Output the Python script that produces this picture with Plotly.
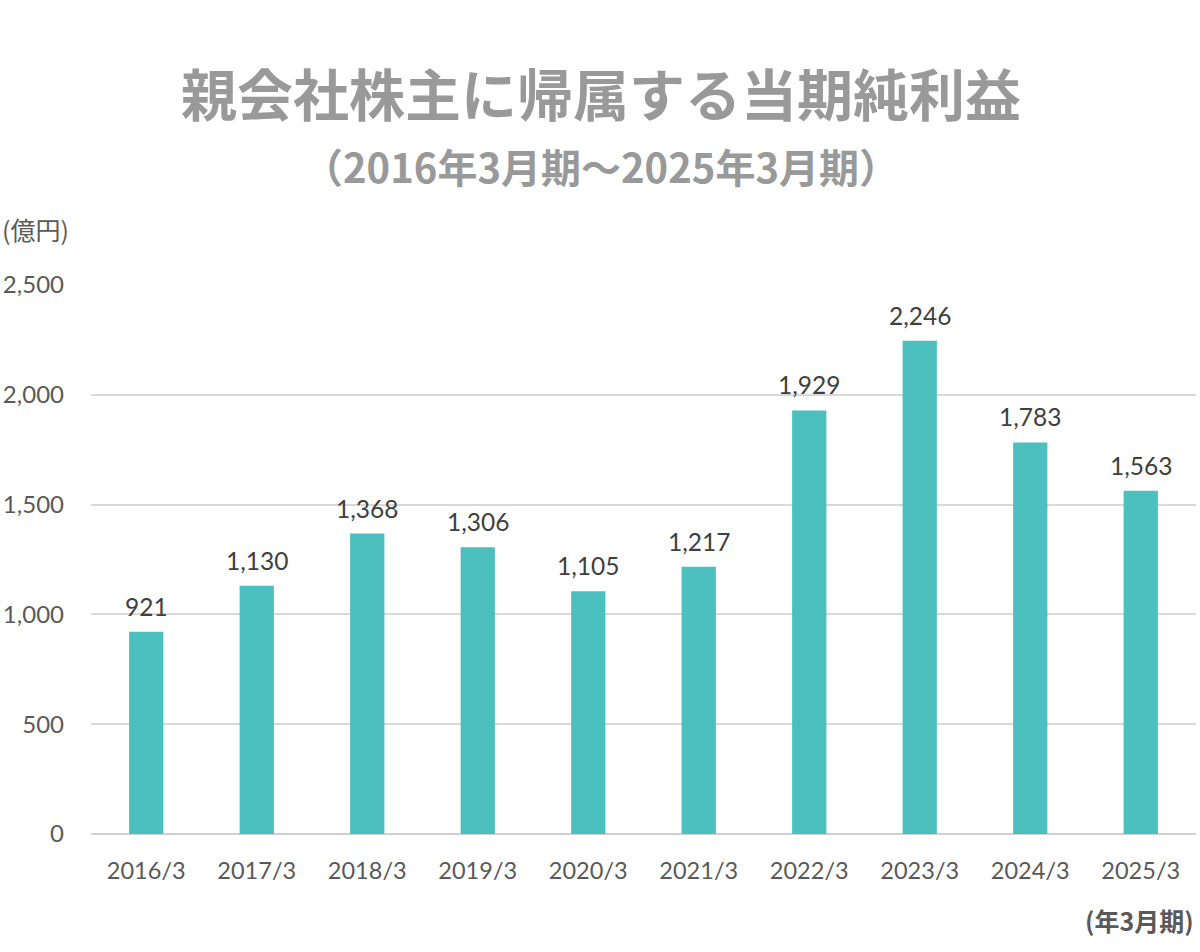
import plotly.graph_objects as go

categories = ["2016/3", "2017/3", "2018/3", "2019/3", "2020/3",
              "2021/3", "2022/3", "2023/3", "2024/3", "2025/3"]
net_income = [921, 1130, 1368, 1306, 1105, 1217, 1929, 2246, 1783, 1563]
y_ticks = [0, 500, 1000, 1500, 2000, 2500]

title_text = "親会社株主に帰属する当期純利益"
subtitle_text = "（2016年3月期～2025年3月期）"
y_unit = "(億円)"
x_unit = "(年3月期)"

BAR = "#4cbfbf"
TICK = "#595959"
LABEL = "#404040"
CJK = "Noto Sans CJK JP"
LAT = "Lato, Noto Sans CJK JP"

W, H = 1200, 952
ML, MR, MT, MB = 91, 4, 285, 118

fig = go.Figure(go.Bar(
    x=categories, y=net_income,
    marker=dict(color=BAR, line=dict(width=0)),
    hoverinfo="skip",
))

plot_h = H - MT - MB
plot_w = W - ML - MR
def py(pix_y):
    return (H - MB - pix_y) / plot_h
def px(pix_x):
    return (pix_x - ML) / plot_w

annotations = [
    dict(text=f"{v:,}", x=c, y=v, xref="x", yref="y", showarrow=False,
         xanchor="center", yanchor="bottom", yshift=9,
         font=dict(family=LAT, size=24.5, color=LABEL))
    for c, v in zip(categories, net_income)
]
annotations += [
    dict(text=f"<b>{title_text}</b>", x=px(601), y=py(92), xref="paper", yref="paper",
         showarrow=False, font=dict(family=CJK, size=56, color="#999999"),
         xanchor="center", yanchor="middle"),
    dict(text=f"<b>{subtitle_text}</b>", x=px(601), y=py(166), xref="paper", yref="paper",
         showarrow=False, font=dict(family=CJK, size=40, color="#999999"),
         xanchor="center", yanchor="middle"),
    dict(text=y_unit, x=px(0), y=py(229), xref="paper", yref="paper",
         showarrow=False, font=dict(family=CJK, size=25, color=TICK),
         xanchor="left", yanchor="middle"),
    dict(text=f"<b>{x_unit}</b>", x=px(1196), y=py(920), xref="paper", yref="paper",
         showarrow=False, font=dict(family=CJK, size=25, color=TICK),
         xanchor="right", yanchor="middle"),
]

fig.update_layout(
    width=W, height=H,
    margin=dict(l=ML, r=MR, t=MT, b=MB),
    paper_bgcolor="white", plot_bgcolor="white",
    bargap=0.69,
    showlegend=False,
    xaxis=dict(
        type="category",
        tickfont=dict(family=LAT, size=23.5, color=TICK),
        showgrid=False, showline=False, ticks="",
        ticklabelstandoff=20,
    ),
    yaxis=dict(
        range=[0, 2500], tickvals=y_ticks, tickformat=",",
        tickfont=dict(family=LAT, size=24, color=TICK),
        gridcolor="#d9d9d9", gridwidth=1.5,
        zeroline=True, zerolinecolor="#d0d0d0", zerolinewidth=2,
        showline=False, ticks="",
        ticklabelstandoff=26,
    ),
    annotations=annotations,
)

fig.write_html("out.html",
               config={"displayModeBar": False},
               post_script="document.body.style.margin='0';document.body.style.padding='0';")
